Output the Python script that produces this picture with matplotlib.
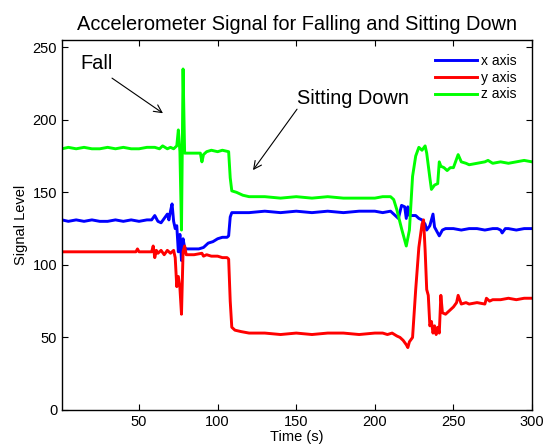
import numpy as np
import matplotlib.pyplot as plt

plt.rcParams['font.family'] = ['Liberation Sans', 'DejaVu Sans']

# x axis samples (time, value)
x_t = [1, 5, 10, 15, 20, 25, 30, 35, 40, 45,
       50, 55, 58, 60, 62, 64, 66, 68, 69, 70,
       71, 72, 73, 74, 75, 76, 77, 78, 79, 80,
       85, 88, 91, 94, 97, 100, 103, 106, 107, 108,
       109, 112, 120, 130, 140, 150, 160, 170, 180, 190,
       200, 205, 210, 213, 215, 217, 219, 220, 221, 222,
       224, 226, 228, 230, 232, 233, 235, 237, 238, 240,
       241, 243, 245, 250, 255, 260, 265, 270, 275, 278,
       280, 281, 283, 285, 290, 295, 300]
x_v = [131, 130, 131, 130, 131, 130, 130, 131, 130, 131,
       130, 131, 131, 134, 130, 129, 132, 135, 131, 137,
       142, 130, 125, 127, 109, 121, 103, 118, 112, 111,
       111, 111, 112, 115, 116, 118, 119, 119, 120, 133,
       136, 136, 136, 137, 136, 137, 136, 137, 136, 137,
       137, 136, 137, 134, 132, 141, 140, 132, 140, 134,
       134, 134, 132, 131, 128, 124, 127, 135, 126, 122,
       120, 124, 125, 125, 124, 125, 125, 124, 125, 125,
       124, 122, 125, 125, 124, 125, 125]

# y axis samples
y_t = [1, 10, 20, 30, 40, 48, 49, 50, 55, 58,
       59, 60, 61, 62, 64, 66, 68, 70, 72, 73,
       74, 75, 76, 77, 78, 79, 80, 85, 90, 91,
       93, 96, 100, 103, 106, 107, 108, 109, 111, 115,
       120, 130, 140, 150, 160, 170, 180, 190, 200, 205,
       208, 211, 214, 216, 218, 220, 221, 222, 224, 226,
       228, 230, 231, 232, 233, 234, 235, 236, 237, 238,
       239, 240, 241, 242, 243, 245, 247, 250, 252, 253,
       255, 258, 260, 265, 270, 271, 273, 275, 280, 285,
       290, 295, 300]
y_v = [109, 109, 109, 109, 109, 109, 111, 109, 109, 109,
       113, 105, 110, 108, 110, 107, 110, 108, 110, 105,
       85, 92, 84, 66, 109, 113, 107, 107, 108, 106,
       107, 106, 106, 105, 105, 104, 75, 57, 55, 54,
       53, 53, 52, 53, 52, 53, 53, 52, 53, 53,
       52, 53, 51, 50, 48, 45, 43, 47, 50, 83,
       112, 128, 131, 110, 83, 79, 58, 61, 53, 58,
       52, 57, 53, 79, 67, 66, 68, 71, 74, 79,
       73, 74, 73, 74, 73, 77, 75, 76, 76, 77,
       76, 77, 77]

# z axis samples
z_t = [1, 5, 10, 15, 20, 25, 30, 35, 40, 45,
       50, 55, 60, 63, 65, 68, 70, 72, 73, 74,
       75, 76, 77, 78, 79, 80, 85, 89, 90, 91,
       93, 96, 100, 103, 107, 108, 109, 112, 116, 120,
       130, 140, 150, 160, 170, 180, 190, 200, 205, 210,
       212, 214, 217, 220, 222, 224, 226, 228, 230, 232,
       233, 235, 236, 238, 240, 241, 242, 244, 246, 248,
       250, 251, 253, 255, 258, 260, 265, 270, 272, 275,
       280, 285, 290, 295, 300]
z_v = [180, 181, 180, 181, 180, 180, 181, 180, 181, 180,
       180, 181, 181, 180, 182, 180, 181, 180, 181, 182,
       193, 178, 124, 235, 177, 177, 177, 177, 171, 176,
       178, 179, 178, 179, 178, 160, 151, 150, 148, 147,
       147, 146, 147, 146, 147, 146, 146, 146, 147, 147,
       145, 138, 125, 113, 124, 161, 175, 181, 179, 182,
       177, 160, 152, 155, 156, 171, 168, 167, 165, 167,
       167, 170, 176, 171, 170, 169, 170, 171, 172, 170,
       171, 170, 171, 172, 171]

fig = plt.figure(figsize=(5.46, 4.45), dpi=100)
ax = fig.add_axes([0.1136, 0.0787, 0.8608, 0.8315])

ax.plot(x_t, x_v, color=(0, 0, 1), lw=2.1, label='x axis')
ax.plot(y_t, y_v, color=(1, 0, 0), lw=2.1, label='y axis')
ax.plot(z_t, z_v, color=(0, 1, 0), lw=2.1, label='z axis')

ax.set_xlim(1, 300)
ax.set_ylim(0, 255)
ax.set_xticks([50, 100, 150, 200, 250, 300])
ax.set_yticks([0, 50, 100, 150, 200, 250])
ax.tick_params(direction='in', labelsize=10.5, top=True, right=True, length=4)
for s in ax.spines.values():
    s.set_linewidth(1.0)

ax.set_title('Accelerometer Signal for Falling and Sitting Down', fontsize=14.4, pad=7)
ax.set_xlabel('Time (s)', fontsize=10.5, labelpad=1)
ax.set_ylabel('Signal Level', fontsize=10.5, labelpad=3)

# annotations: text plus separate arrows
ax.text(12.5, 239, 'Fall', fontsize=14.4, ha='left', va='center')
ax.annotate('', xy=(65.2, 204.5), xytext=(32.8, 228.7),
            arrowprops=dict(arrowstyle='->', lw=0.8, color='black',
                            mutation_scale=14, shrinkA=0, shrinkB=0))
ax.text(150.3, 214.9, 'Sitting Down', fontsize=14.4, ha='left', va='center')
ax.annotate('', xy=(122.5, 165.3), xytext=(150.5, 207.3),
            arrowprops=dict(arrowstyle='->', lw=0.8, color='black',
                            mutation_scale=14, shrinkA=0, shrinkB=0))

ax.legend(loc='upper right', frameon=False, fontsize=10, handlelength=3.0,
          labelspacing=0.2, handletextpad=0.3, borderaxespad=0.6,
          bbox_to_anchor=(0.997, 1.0))

plt.savefig('out.png', dpi=100)
